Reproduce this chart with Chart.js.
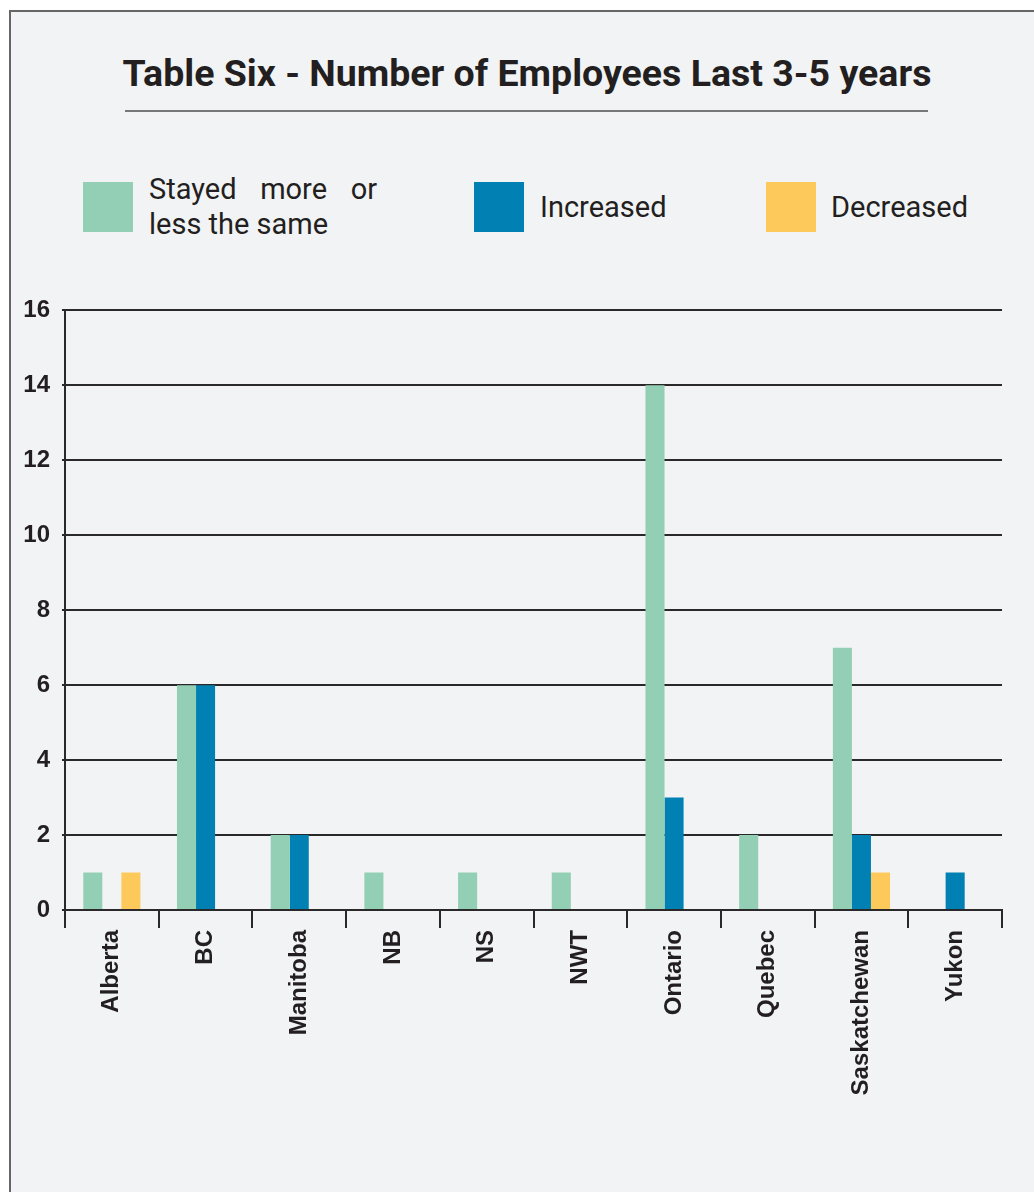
<!DOCTYPE html>
<html>
<head>
<meta charset="utf-8">
<script src="https://cdn.jsdelivr.net/npm/chart.js@4/dist/chart.umd.min.js"></script>
<style>
  body { margin: 0; background: #fff; width: 1034px; height: 1192px; overflow: hidden; position: relative; }
  #panel { position: absolute; left: 9px; top: 10px; width: 1100px; height: 1300px; background: #f2f3f5; border-left: 2px solid #666; border-top: 2px solid #666; }
  #title { position: absolute; left: 0; width: 1054px; top: 51px; text-align: center; font: bold 37.5px Roboto, sans-serif; color: #231f20; }
  #rule { position: absolute; left: 125px; top: 110px; width: 803px; height: 2px; background: #777; }
  .box { position: absolute; width: 50px; height: 50px; top: 182px; }
  .lab { position: absolute; font: 29px Roboto, sans-serif; color: #231f20; line-height: 35px; }
  #wrap { position: absolute; left: 0; top: 284px; width: 1034px; height: 816px; }
</style>
</head>
<body>
<div id="panel"></div>
<div id="title">Table Six - Number of Employees Last 3-5 years</div>
<div id="rule"></div>
<div class="box" style="left:83px;background:#93cfb4"></div>
<div class="lab" style="left:149px;top:172px;width:228px;text-align:justify;text-align-last:left">Stayed more or less the same</div>
<div class="box" style="left:474px;background:#0080b3"></div>
<div class="lab" style="left:540px;top:190px">Increased</div>
<div class="box" style="left:766px;background:#fec95b"></div>
<div class="lab" style="left:831px;top:190px">Decreased</div>
<div id="wrap"><canvas id="chart"></canvas></div>
<script>
var provinces = ["Alberta", "BC", "Manitoba", "NB", "NS", "NWT", "Ontario", "Quebec", "Saskatchewan", "Yukon"];
var stayedSame = [1, 6, 2, 1, 1, 1, 14, 2, 7, 0];
var increased = [0, 6, 2, 0, 0, 0, 3, 0, 2, 1];
var decreased = [1, 0, 0, 0, 0, 0, 0, 0, 1, 0];
var yTicks = [0, 2, 4, 6, 8, 10, 12, 14, 16];

var ink = "#2b2829";

new Chart(document.getElementById("chart"), {
    type: "bar",
    data: {
        labels: provinces,
        datasets: [
            { label: "Stayed more or less the same", data: stayedSame, backgroundColor: "#93cfb4" },
            { label: "Increased", data: increased, backgroundColor: "#0080b3" },
            { label: "Decreased", data: decreased, backgroundColor: "#fec95b" }
        ]
    },
    options: {
        responsive: true,
        maintainAspectRatio: false,
        animation: false,
        categoryPercentage: 0.61,
        barPercentage: 1.0,
        layout: { padding: { top: 20, right: 32, left: 0, bottom: 0 } },
        plugins: { legend: { display: false }, tooltip: { enabled: false } },
        scales: {
            x: {
                grid: { offset: true, drawOnChartArea: false, tickLength: 18, color: ink, lineWidth: 2 },
                border: { color: ink, width: 2 },
                ticks: {
                    maxRotation: 90, minRotation: 90, padding: 2,
                    color: "#231f20",
                    font: { family: "Liberation Sans", weight: "bold", size: 24 }
                },
                afterFit: function(s) { s.height = 190; }
            },
            y: {
                min: 0, max: 16,
                afterBuildTicks: function(s) { s.ticks = yTicks.map(function(v) { return { value: v }; }); },
                grid: { color: ink, lineWidth: 2, tickLength: 3 },
                border: { color: ink, width: 2 },
                ticks: {
                    padding: 12,
                    color: "#231f20",
                    font: { family: "Liberation Sans", weight: "bold", size: 24 }
                },
                afterFit: function(s) { s.width = 65; }
            }
        }
    }
});
</script>
</body>
</html>
